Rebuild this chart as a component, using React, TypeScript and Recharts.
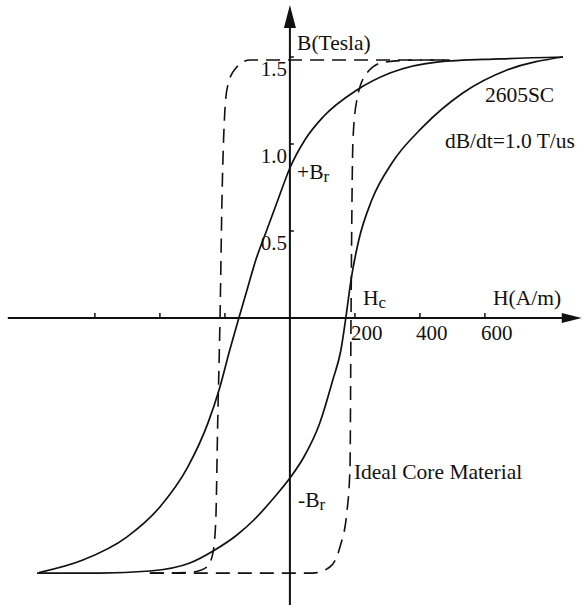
import { LineChart, Line, XAxis, YAxis, ReferenceLine, ReferenceDot } from "recharts";

// 2605SC loop, descending branch (listed from -saturation up, so H increases)
const downH = [-772, -637, -502, -400, -314, -252, -218, -185, -157, -132, -105, -71, -37, 0, 46, 102, 206, 308, 452, 646, 840];
const downB = [-1.463, -1.391, -1.259, -1.086, -0.856, -0.603, -0.414, -0.184, 0, 0.161, 0.333, 0.506, 0.678, 0.862, 1.023, 1.155, 1.31, 1.408, 1.471, 1.489, 1.5];

// 2605SC loop, ascending branch
const upH = [-778, -585, -431, -308, -231, -163, -111, -55, 0, 43, 92, 132, 157, 172, 188, 212, 252, 314, 409, 532, 668, 840];
const upB = [-1.466, -1.466, -1.454, -1.408, -1.333, -1.247, -1.161, -1.046, -0.92, -0.799, -0.603, -0.356, -0.184, 0, 0.218, 0.448, 0.678, 0.891, 1.098, 1.293, 1.425, 1.5];

// ideal core material (dashed square loop)
const idealDownH = [-431, -369, -298, -255, -237, -228, -222, -215, -209, -200, -191, -166, -123, 31, 492];
const idealDownB = [-1.466, -1.466, -1.46, -1.431, -1.351, -1.161, -0.586, 0, 0.678, 1.195, 1.339, 1.437, 1.483, 1.483, 1.483];
const idealUpH = [-431, 71, 123, 154, 175, 185, 188, 194, 206, 237, 292, 400, 492];
const idealUpB = [-1.466, -1.466, -1.431, -1.316, -1.121, -0.856, 0, 1.023, 1.253, 1.408, 1.471, 1.483, 1.483];

const hTicks = [-600, -400, -200, 200, 400, 600];
const hTickLabels = ["", "", "", "200", "400", "600"];
const bTicks = [0.5, 1.0, 1.5];
const bTickLabels = ["0.5", "1.0", "1.5"];

const notes = [
  { h: 22, b: 1.58, text: "B(Tesla)", sub: "" },
  { h: 600, b: 1.282, text: "2605SC", sub: "" },
  { h: 477, b: 1.02, text: "dB/dt=1.0 T/us", sub: "" },
  { h: 22, b: 0.839, text: "+B", sub: "r" },
  { h: 25, b: -1.046, text: "-B", sub: "r" },
  { h: 225, b: 0.115, text: "H", sub: "c" },
  { h: 625, b: 0.115, text: "H(A/m)", sub: "" },
  { h: 197, b: -0.885, text: "Ideal Core Material", sub: "" },
];

const H_DOMAIN = [-892, 908];
const B_DOMAIN = [-1.6667, 1.8276];
const INK = "#111";
const FONT = "'Liberation Serif', 'Times New Roman', serif";

const pts = (hs: number[], bs: number[]) => hs.map((h, i) => ({ h, b: bs[i] }));

export default function App() {
  return (
    <div style={{ position: "absolute", left: 0, top: 0, background: "#fff" }}>
      <LineChart width={585} height={608} margin={{ top: 0, right: 0, bottom: 0, left: 0 }}>
        <XAxis type="number" dataKey="h" domain={H_DOMAIN} allowDataOverflow hide />
        <YAxis type="number" dataKey="b" domain={B_DOMAIN} allowDataOverflow hide />

        {/* axes */}
        <ReferenceLine segment={[{ x: -868, y: 0 }, { x: 870, y: 0 }]} stroke={INK} strokeWidth={2} />
        <ReferenceLine segment={[{ x: 0, y: -1.65 }, { x: 0, y: 1.72 }]} stroke={INK} strokeWidth={2} />
        <ReferenceDot
          x={898}
          y={0}
          shape={(p: any) => (
            <polygon points={`${p.cx},${p.cy} ${p.cx - 20},${p.cy - 5} ${p.cx - 20},${p.cy + 5}`} fill={INK} />
          )}
        />
        <ReferenceDot
          x={0}
          y={1.799}
          shape={(p: any) => (
            <polygon points={`${p.cx},${p.cy} ${p.cx - 6},${p.cy + 23} ${p.cx + 6},${p.cy + 23}`} fill={INK} />
          )}
        />

        {hTicks.map((t, i) => (
          <ReferenceDot
            key={`ht${t}`}
            x={t}
            y={0}
            shape={(p: any) => (
              <g>
                <line x1={p.cx} y1={p.cy} x2={p.cx} y2={p.cy - 5} stroke={INK} strokeWidth={1.5} />
                <text x={p.cx - 4} y={p.cy + 22} fontFamily={FONT} fontSize={21} fill={INK}>
                  {hTickLabels[i]}
                </text>
              </g>
            )}
          />
        ))}
        {bTicks.map((t, i) => (
          <ReferenceDot
            key={`bt${t}`}
            x={0}
            y={t}
            shape={(p: any) => (
              <g>
                <line x1={p.cx} y1={p.cy} x2={p.cx + 4} y2={p.cy} stroke={INK} strokeWidth={1.5} />
                <text x={p.cx - 3} y={p.cy + 19} textAnchor="end" fontFamily={FONT} fontSize={21} fill={INK}>
                  {bTickLabels[i]}
                </text>
              </g>
            )}
          />
        ))}

        <Line data={pts(idealDownH, idealDownB)} dataKey="b" type="monotone" dot={false} activeDot={false} stroke={INK} strokeWidth={1.6} strokeDasharray="14 8" isAnimationActive={false} />
        <Line data={pts(idealUpH, idealUpB)} dataKey="b" type="monotone" dot={false} activeDot={false} stroke={INK} strokeWidth={1.6} strokeDasharray="14 8" isAnimationActive={false} />
        <Line data={pts(downH, downB)} dataKey="b" type="monotone" dot={false} activeDot={false} stroke={INK} strokeWidth={1.7} isAnimationActive={false} />
        <Line data={pts(upH, upB)} dataKey="b" type="monotone" dot={false} activeDot={false} stroke={INK} strokeWidth={1.7} isAnimationActive={false} />

        {notes.map((n) => (
          <ReferenceDot
            key={n.text}
            x={n.h}
            y={n.b}
            shape={(p: any) => (
              <text x={p.cx} y={p.cy + 7} fontFamily={FONT} fontSize={21.5} fill={INK}>
                {n.text}
                {n.sub && (
                  <tspan fontSize={17} dy={3}>
                    {n.sub}
                  </tspan>
                )}
              </text>
            )}
          />
        ))}
      </LineChart>
    </div>
  );
}
